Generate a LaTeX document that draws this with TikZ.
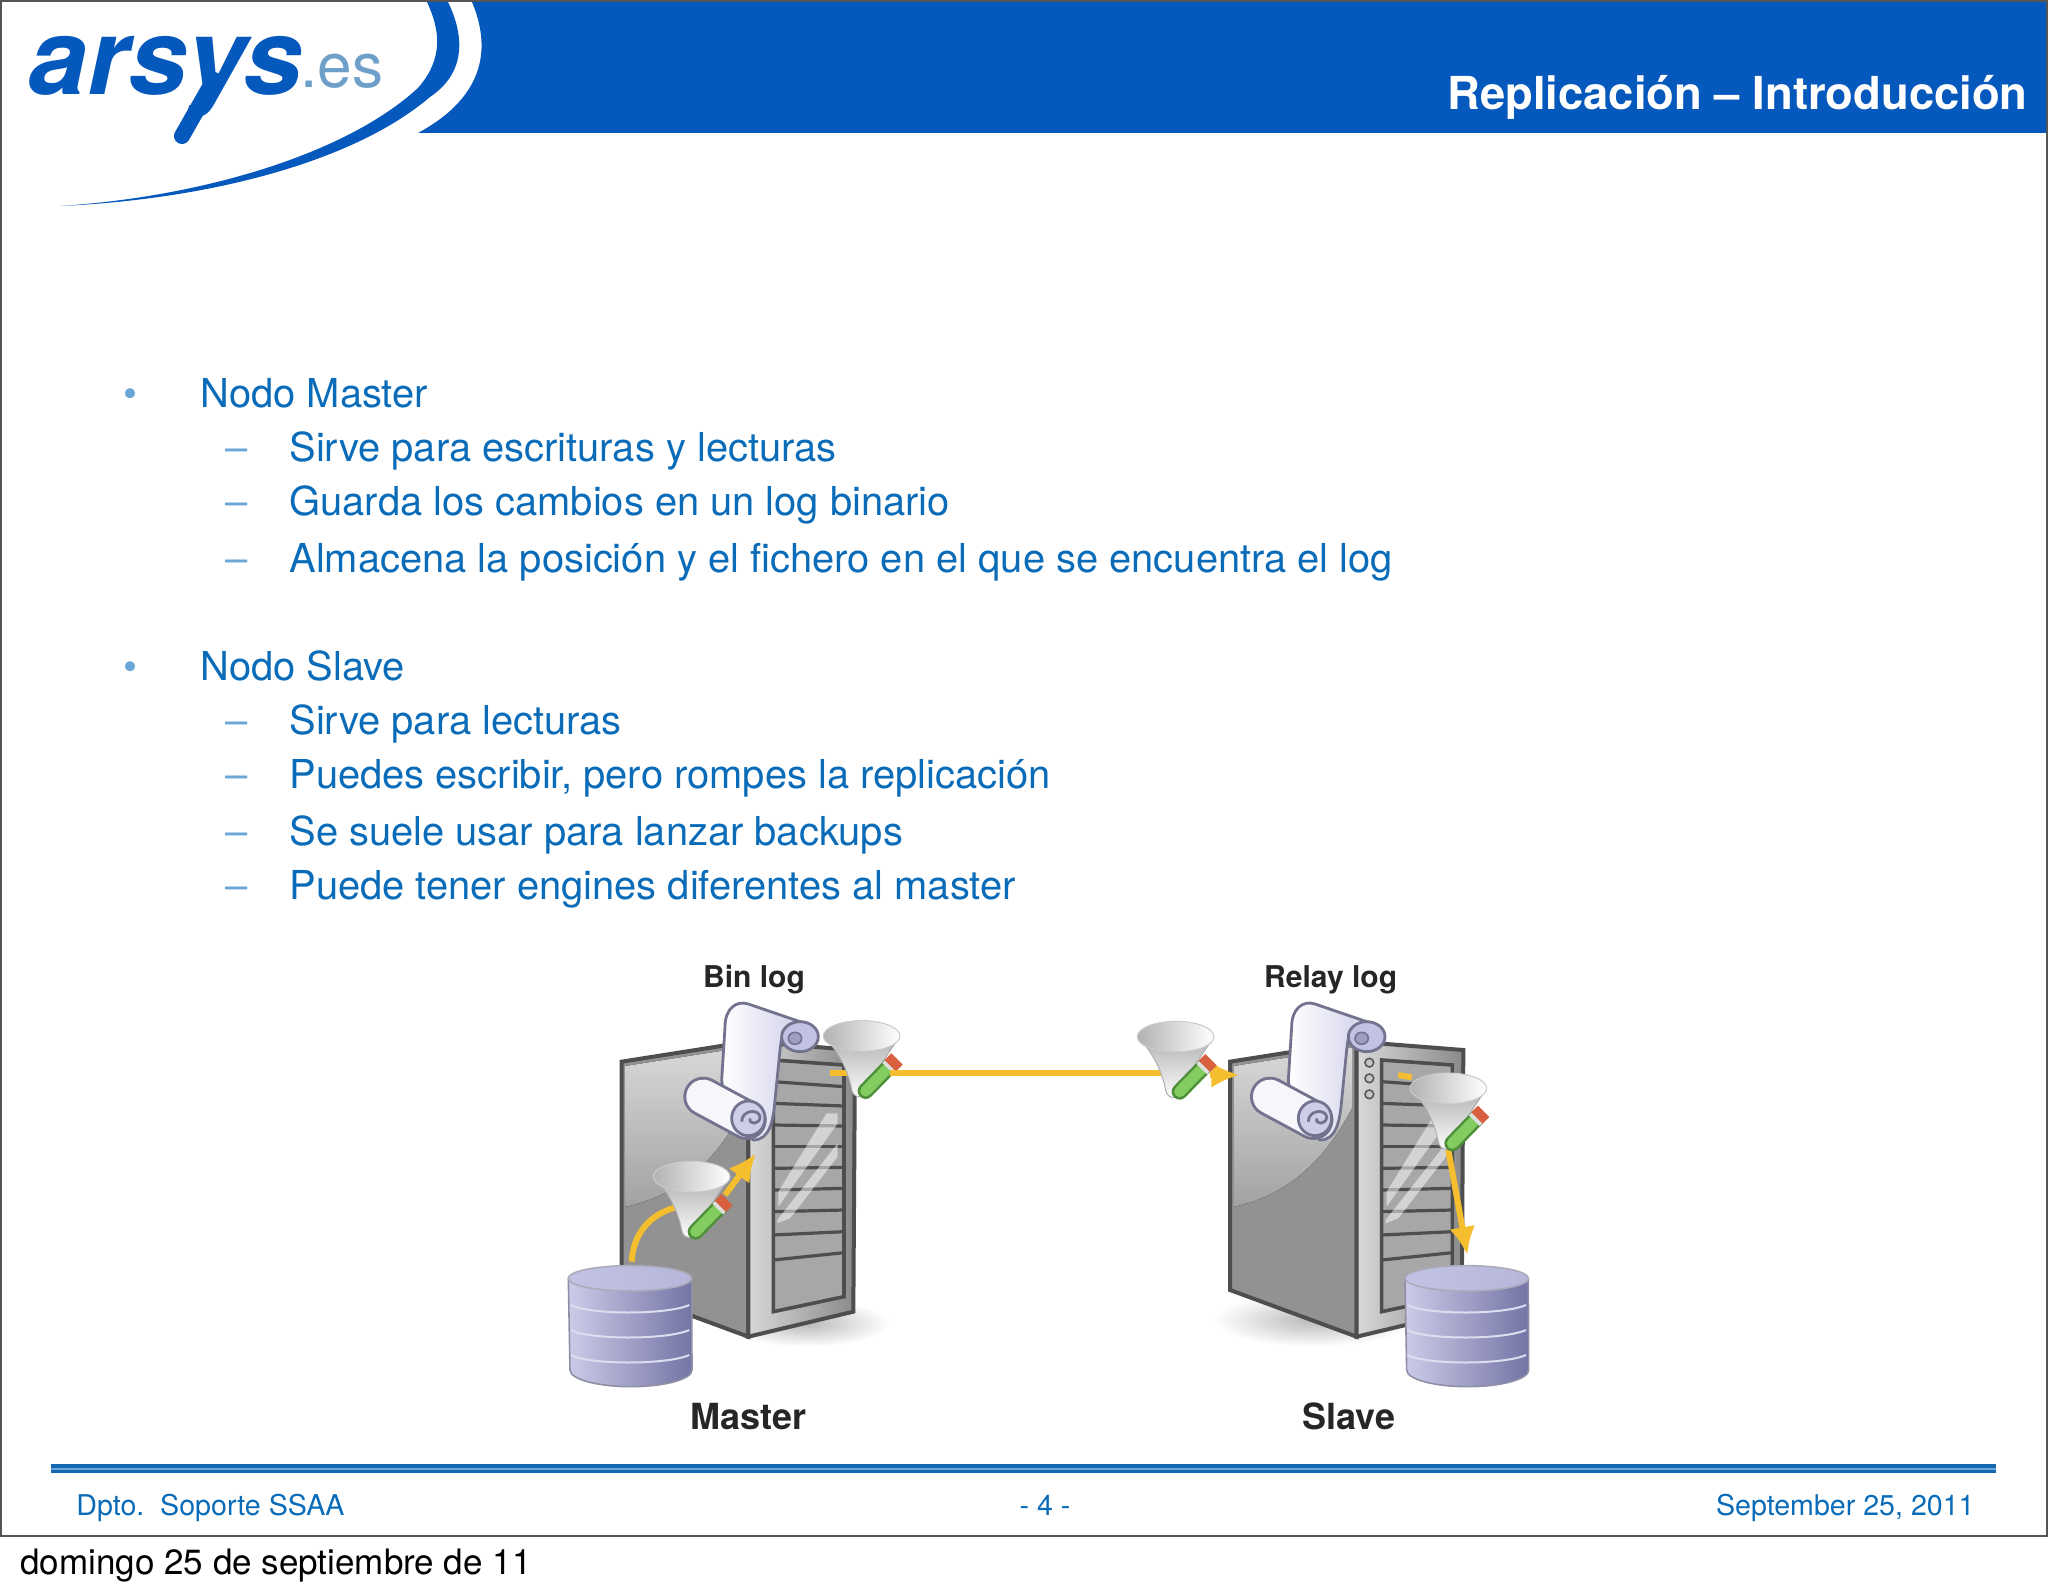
\documentclass[tikz,border=0pt]{standalone}
\usepackage{fontspec}
\usepackage{xcolor}
\setmainfont{TeX Gyre Heros}
\usetikzlibrary{arrows.meta, positioning, calc}
\definecolor{arsysblue}{HTML}{0558BC}
\definecolor{slidetext}{HTML}{0A6CB8}
\definecolor{paleblue}{HTML}{6BA6D6}
\definecolor{esblue}{HTML}{6E9FC8}
\definecolor{frameline}{HTML}{555555}
\definecolor{rulemain}{HTML}{1569B0}
\definecolor{arrowgold}{HTML}{F4BE2E}
\definecolor{caselight}{HTML}{D8D8D8}
\definecolor{casemid}{HTML}{A2A2A2}
\definecolor{casedark}{HTML}{4E4E4E}
\definecolor{lavender}{HTML}{C2C2E4}
\definecolor{lavdark}{HTML}{7474A6}
\definecolor{lavline}{HTML}{73738F}
\definecolor{pencilgreen}{HTML}{82CC60}
\definecolor{penciledge}{HTML}{4F8F3A}
\definecolor{pencilred}{HTML}{D9603F}
\tikzset{
    lvlone/.style={anchor=base west, inner sep=0pt, text=slidetext, font=\fontsize{19.94}{24}\selectfont},
    lvltwo/.style={lvlone},
    bulletmark/.style={anchor=base, inner sep=0pt, text=paleblue, font=\fontsize{20}{24}\selectfont},
    footer/.style={anchor=base, inner sep=0pt, text=slidetext, font=\fontsize{14.3}{18}\selectfont},
    caption/.style={anchor=base, inner sep=0pt, text=black!85, font=\bfseries\fontsize{15}{18}\selectfont},
    bigcaption/.style={caption, font=\bfseries\fontsize{18}{22}\selectfont},
    goldline/.style={arrowgold, line width=3pt},
    goldarrow/.style={goldline, -{Latex[length=14pt,width=13pt]}},
    server/.pic={
        \filldraw[draw=casedark, line width=2pt, fill=casemid!90!black] (245,365) -- (625,305) -- (625,1190) -- (245,1050) -- cycle;
        \fill[top color=caselight, bottom color=casemid] (257,378) -- (613,322) -- (613,500) .. controls (520,680) and (400,770) .. (257,800) -- cycle;
        \filldraw[draw=casedark, line width=2pt, left color=caselight, right color=casemid!85!black] (625,305) -- (945,330) -- (940,1115) -- (625,1190) -- cycle;
        \filldraw[draw=casedark, line width=1.8pt, fill=casemid!95!white] (700,360) -- (912,375) -- (912,1070) -- (700,1115) -- cycle;
        \foreach \a/\b in {425/440, 490/498, 555/558, 620/620, 685/682, 750/745, 815/810, 885/875, 960/938}
            \draw[casedark, line width=1.6pt] (700,\a) -- (912,\b);
        \fill[white, opacity=.5] (860,520) -- (893,520) -- (893,550) -- (715,800) -- (715,755) -- cycle;
        \fill[white, opacity=.5] (893,610) -- (893,650) -- (750,835) -- (712,850) -- (712,840) -- cycle;
    },
    scroll/.pic={
        \filldraw[draw=lavline, line width=1.4pt, left color=white, right color=lavender!75!white] (555,260) .. controls (555,205) and (590,180) .. (625,192) -- (780,245) .. controls (720,260) and (725,300) .. (720,330) -- (705,480) .. controls (700,540) and (690,600) .. (640,600) -- (560,535) -- (545,420) -- cycle;
        \filldraw[draw=lavline, line width=1.4pt, fill=lavender] (780,290) ellipse [x radius=55, y radius=45];
        \filldraw[draw=lavline, line width=.8pt, fill=lavdark!70!white] (765,295) ellipse [x radius=20, y radius=18];
        \draw[lavline, line width=20pt, line cap=round] (490,470) -- (620,540);
        \draw[white!85!lavender, line width=17pt, line cap=round] (490,470) -- (620,540);
        \filldraw[draw=lavline, line width=1.4pt, fill=lavender!80!white] (625,535) ellipse [x radius=50, y radius=52];
        \draw[lavline, line width=1.4pt] (605,545) .. controls (605,510) and (655,505) .. (660,530) .. controls (660,555) and (625,555) .. (630,535);
    },
    funnel/.pic={
        \filldraw[draw=gray!60, line width=.5pt, top color=gray!60, bottom color=white] (-112,8) .. controls (-70,50) and (-40,110) .. (-30,165) .. controls (-25,195) and (10,195) .. (20,165) .. controls (40,110) and (80,60) .. (112,8) -- cycle;
        \filldraw[draw=gray!40, line width=.5pt, left color=gray!60, right color=white] (0,5) ellipse [x radius=115, y radius=46];
        \draw[penciledge, line width=8pt, line cap=round] (12,170) -- (85,95);
        \draw[pencilgreen, line width=5.5pt, line cap=round] (12,170) -- (85,95);
        \draw[gray!25, line width=7.5pt] (78,102) -- (86,94);
        \draw[pencilred, line width=8pt] (86,94) -- (106,74);
    },
    dbstack/.pic={
        \filldraw[draw=lavline!80!white, line width=.8pt, left color=lavender!85!white, middle color=lavender!75!white, right color=lavdark] (85,1015) -- (90,1290) arc [start angle=180, end angle=0, x radius=183, y radius=50] -- (455,1015) -- cycle;
        \filldraw[draw=lavline!60!white, line width=.8pt, left color=lavender, right color=lavender!85!lavdark] (270,1015) ellipse [x radius=185, y radius=38];
        \foreach \a in {1095, 1170, 1245}
            \draw[white!45!lavender, line width=1pt] (92,\a) .. controls (150,\a+30) and (380,\a+30) .. (448,\a);
    }
}
\begin{document}
\begin{tikzpicture}[x=.5pt, y=-.5pt]
        \useasboundingbox (0,0) rectangle (2048,1593);
        \fill[arsysblue] (472,2) .. controls (490,45) and (488,95) .. (418,133) -- (2048,133) -- (2048,2) -- cycle;
        \fill[arsysblue] (448,2) .. controls (464,35) and (467,72) .. (430,97) .. controls (350,165) and (200,200) .. (60,206) .. controls (200,197) and (345,155) .. (418,88) .. controls (444,58) and (440,30) .. (427,2) -- cycle;
        \draw[frameline, line width=1pt] (1,1) rectangle (2047,1536);
        \draw[arsysblue, line width=8pt, line cap=round] (214,80) -- (182,136);
        \node[anchor=base west, inner sep=0pt, text=arsysblue, font=\bfseries\itshape\fontsize{53}{55}\selectfont] (logo) at (28,95) {arsys};
        \node[anchor=base west, inner sep=0pt, text=esblue, font=\fontsize{31}{32}\selectfont] (logoes) at (300,88) {.es};
        \node[anchor=base east, inner sep=0pt, text=white, font=\bfseries\fontsize{22.7}{26}\selectfont] (title) at (2028,110) {Replicación – Introducción};

        \foreach \y/\n in {408/a, 680/b}
            \node[bulletmark] (bul\n) at (130,\y) {•};
        \foreach \y/\n in {462/a, 516/b, 572/c, 734/d, 788/e, 845/f, 899/g}
            \node[bulletmark] (dash\n) at (237,\y) {–};
        \node[lvlone] (master) at (200,408) {Nodo Master};
        \node[lvltwo] (mone) at (289,462) {Sirve para escrituras y lecturas};
        \node[lvltwo] (mtwo) at (289,516) {Guarda los cambios en un log binario};
        \node[lvltwo] (mthree) at (289,572) {Almacena la posición y el fichero en el que se encuentra el log};
        \node[lvlone] (slave) at (200,680) {Nodo Slave};
        \node[lvltwo] (sone) at (289,734) {Sirve para lecturas};
        \node[lvltwo] (stwo) at (289,788) {Puedes escribir, pero rompes la replicación};
        \node[lvltwo] (sthree) at (289,845) {Se suele usar para lanzar backups};
        \node[lvltwo] (sfour) at (289,899) {Puede tener engines diferentes al master};

        \begin{scope}[shift={(540,940)}, scale=1/3]
            \shade[inner color=gray!55, outer color=white] (800,1150) ellipse [x radius=250, y radius=70];
            \pic[transform shape] at (0,0) {server};
            \pic[transform shape] at (0,0) {scroll};
            \coordinate (dbtop) at (275,965);
            \coordinate (lowin) at (415,800);
            \coordinate (lowout) at (555,765);
            \coordinate (lowend) at (648,640);
            \coordinate (binstub) at (870,400);
            \coordinate (binfun) at (925,400);
            \coordinate (binout) at (1050,400);
            \draw[goldline] (dbtop) .. controls (280,880) and (330,820) .. (lowin);
            \draw[goldarrow] (lowout) -- (lowend);
            \draw[goldline] (binstub) -- (binfun);
            \pic[transform shape] at (455,705) {funnel};
            \pic[transform shape] at (965,283) {funnel};
            \pic[transform shape] at (0,0) {dbstack};
            \node[caption] (binlog) at (642,141) {Bin log};
            \node[bigcaption] (mastercap) at (625,1468) {Master};
        \end{scope}

        \begin{scope}[shift={(1110,940)}, scale=1/3]
            \shade[inner color=gray!55, outer color=white] (610,1140) ellipse [x radius=300, y radius=80];
            \pic[transform shape] at (115,0) {server};
            \foreach \y/\n in {368/a, 415/b, 463/c}
                \filldraw[draw=gray!70!black, line width=.8pt, fill=gray!45] (778,\y) circle (13);
            \pic[transform shape] at (-10,0) {scroll};
            \coordinate (relayin) at (160,400);
            \coordinate (relayout) at (300,405);
            \coordinate (relayend) at (388,405);
            \coordinate (relaystub) at (865,405);
            \coordinate (relayfun) at (905,412);
            \coordinate (pencilout) at (1015,630);
            \coordinate (dbin) at (1072,945);
            \draw[goldline] (binout) -- (relayin);
            \draw[goldarrow] (relayout) -- (relayend);
            \draw[goldline] (relaystub) -- (relayfun);
            \draw[goldarrow] (pencilout) -- (dbin);
            \pic[transform shape] at (197,285) {funnel};
            \pic[transform shape] at (1015,440) {funnel};
            \pic[transform shape] at (800,0) {dbstack};
            \node[caption] (relaylog) at (662,141) {Relay log};
            \node[bigcaption] (slavecap) at (717,1468) {Slave};
        \end{scope}

        \fill[rulemain] (51,1464) rectangle (1996,1473);
        \fill[paleblue] (51,1468) rectangle (1996,1469.5);
        \node[footer, anchor=base west] (dept) at (76,1515) {Dpto.\ \ Soporte SSAA};
        \node[footer] (page) at (1045,1515) {- 4 -};
        \node[footer, anchor=base east] (date) at (1975,1515) {September 25, 2011};
        \node[anchor=base west, inner sep=0pt, font=\fontsize{17.5}{20}\selectfont] (day) at (20,1574) {domingo 25 de septiembre de 11};
    \end{tikzpicture}
\end{document}
